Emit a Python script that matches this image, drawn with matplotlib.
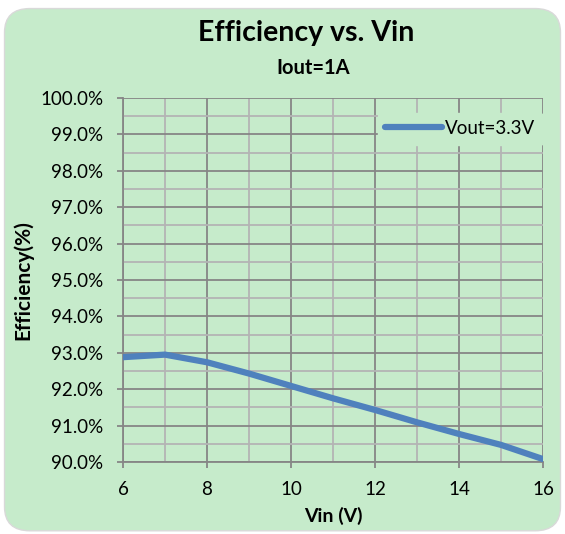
import numpy as np
import matplotlib.pyplot as plt
from matplotlib.patches import FancyBboxPatch
from matplotlib.ticker import MultipleLocator, FuncFormatter

# values
vin = [6, 7, 8, 9, 10, 11, 12, 13, 14, 15, 16]
eff = [92.88, 92.95, 92.74, 92.43, 92.09, 91.75, 91.43, 91.09, 90.77, 90.47, 90.08]
series_name = 'Vout=3.3V'

bg = '#C6EBCB'
line_col = '#4F81BD'
major_col = '#868686'
minor_col = '#B4B4B4'

plt.rcParams['font.family'] = ['Lato', 'DejaVu Sans']

fig = plt.figure(figsize=(5.65, 5.34), dpi=100)
fig.patch.set_facecolor('white')
box = FancyBboxPatch((0.008, 0.006), 0.984, 0.978, boxstyle='round,pad=0,rounding_size=0.045',
                     transform=fig.transFigure, facecolor=bg, edgecolor='#D9D9D9', lw=1,
                     zorder=-5)
fig.patches.append(box)

ax = fig.add_axes([123/565, 1-462/534, 420/565, 364/534])
ax.set_facecolor(bg)
ax.plot(vin, eff, color=line_col, lw=4.5, solid_capstyle='round', solid_joinstyle='round',
        label=series_name, zorder=3)

ax.set_xlim(6, 16)
ax.set_ylim(90, 100)
ax.xaxis.set_major_locator(MultipleLocator(2))
ax.xaxis.set_minor_locator(MultipleLocator(1))
ax.yaxis.set_major_locator(MultipleLocator(1))
ax.yaxis.set_minor_locator(MultipleLocator(0.5))
ax.yaxis.set_major_formatter(FuncFormatter(lambda v, p: '%.1f%%' % v))
ax.grid(which='major', color=major_col, lw=1.3)
ax.grid(which='minor', color=minor_col, lw=1.3)
ax.set_axisbelow(True)
for s in ['top', 'right']:
    ax.spines[s].set_visible(False)
for s in ['left', 'bottom']:
    ax.spines[s].set_color(major_col)
    ax.spines[s].set_linewidth(1.3)
ax.tick_params(which='major', length=4, width=1.3, color=major_col, labelsize=13.5)
ax.tick_params(axis='y', pad=10)
ax.tick_params(axis='x', pad=10)
ax.tick_params(which='minor', length=0)

ax.set_xlabel('Vin (V)', fontsize=14, fontweight='bold', labelpad=6)
ax.set_ylabel('Efficiency(%)', fontsize=15, fontweight='bold', labelpad=5)

fig.text(306/565, 1-33/534, 'Efficiency vs. Vin', ha='center', va='center', fontsize=20.5, fontweight='bold')
fig.text(313/565, 1-68/534, 'Iout=1A', ha='center', va='center', fontsize=14.5, fontweight='bold')

leg = ax.legend(loc='upper right', bbox_to_anchor=(1.0, 0.96), frameon=True, fontsize=13.5,
                handlelength=3.0, handletextpad=0.2, borderpad=0.4, borderaxespad=0)
leg.get_frame().set_facecolor(bg)
leg.get_frame().set_edgecolor(bg)
leg.get_frame().set_alpha(1)

fig.savefig('out.png', dpi=100, facecolor='white')
